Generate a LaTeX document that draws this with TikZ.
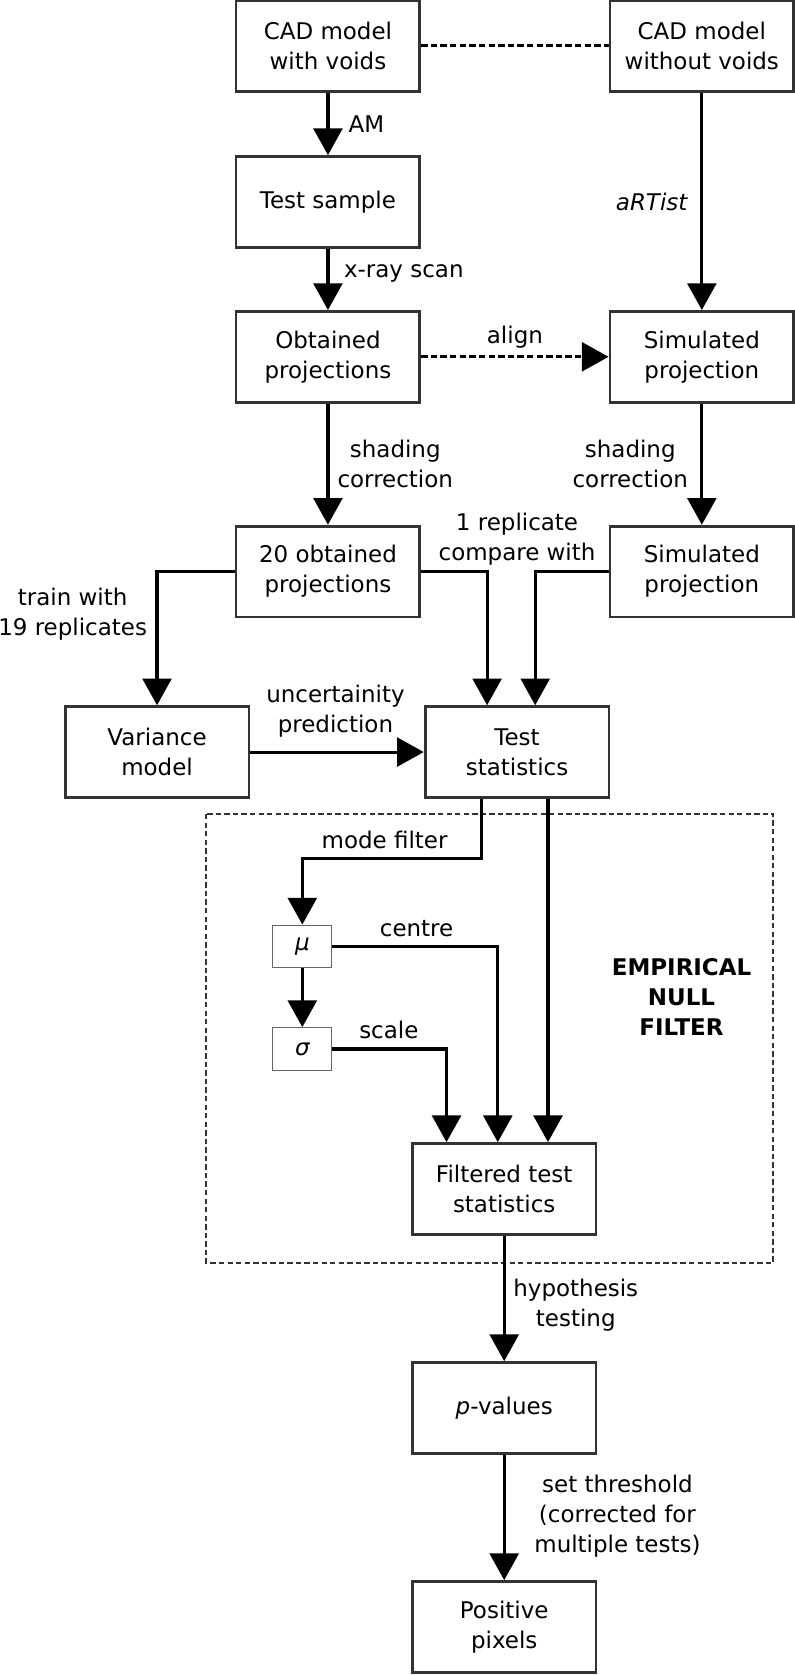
\documentclass[tikz,border=0pt]{standalone}
\usepackage{fontspec}
\setmainfont{DejaVu Sans}
\usetikzlibrary{arrows.meta}

\tikzset{
    stage/.style={draw=black!80, line width=2.6pt, minimum width=172pt, minimum height=85pt,
        align=center, inner sep=0pt},
    param/.style={draw=black!60, line width=1pt, minimum width=55pt, minimum height=40pt,
        inner sep=0pt},
    flow/.style={line width=2.9pt, -{Triangle[length=25pt,width=27pt]}},
    lbl/.style={align=center, inner sep=0pt}
}

\begin{document}
\begin{tikzpicture}[x=1pt, y=-1pt, font=\fontsize{21.5}{28}\selectfont]
        \useasboundingbox (0,0) rectangle (744,1568);

        % Stages
        \node[stage] (cadv)  at (307,43)   {CAD model\\with voids};
        \node[stage] (cadn)  at (657,43)   {CAD model\\without voids};
        \node[stage] (samp)  at (307,189)  {Test sample};
        \node[stage] (obt)   at (307,334)  {Obtained\\projections};
        \node[stage] (sim)   at (657,334)  {Simulated\\projection};
        \node[stage] (obt20) at (307,535)  {20 obtained\\projections};
        \node[stage] (sim2)  at (657,535)  {Simulated\\projection};
        \node[stage] (var)   at (147,704)  {Variance\\model};
        \node[stage] (stat)  at (484,704)  {Test\\statistics};
        \node[param] (mu)    at (283,886)  {\itshape μ};
        \node[param] (sig)   at (283,982)  {\itshape σ};
        \node[stage] (filt)  at (472,1113) {Filtered test\\statistics};
        \node[stage] (pval)  at (472,1318) {\itshape p\upshape-values};
        \node[stage] (pos)   at (472,1523) {Positive\\pixels};

        % Empirical null filter frame
        \draw[black!80, line width=2pt, dash pattern=on 5pt off 3pt] (193,762) rectangle (724,1182);
        \node[lbl, font=\fontsize{21.5}{28}\selectfont\bfseries] (enf) at (638,933) {EMPIRICAL\\NULL\\FILTER};

        % Connectors
        \draw[line width=2.9pt, dash pattern=on 6pt off 3pt] (cadv) -- (cadn);
        \draw[flow] (cadv) -- (samp);
        \draw[flow] (samp) -- (obt);
        \draw[flow] (cadn) -- (sim);
        \draw[flow, dash pattern=on 6pt off 3pt] (obt) -- (sim);
        \draw[flow] (obt) -- (obt20);
        \draw[flow] (sim) -- (sim2);
        \draw[flow] (obt20.west) -| (var.north);
        \draw[flow] (obt20.east) -| ([xshift=-28]stat.north);
        \draw[flow] (sim2.west) -| ([xshift=17]stat.north);
        \draw[flow] (var) -- (stat);
        \draw[flow] ([xshift=-33]stat.south) -- ++(0,56) -| (mu.north);
        \draw[flow] ([xshift=29]stat.south) -- ([xshift=29]stat.south |- filt.north);
        \draw[flow] (mu.east) -| ([xshift=-6]filt.north);
        \draw[flow] (mu) -- (sig);
        \draw[flow] (sig.east) -| ([xshift=-54]filt.north);
        \draw[flow] (filt) -- (pval);
        \draw[flow] (pval) -- (pos);

        % Labels
        \node[lbl] (lam)    at (343,116)  {AM};
        \node[lbl] (lxray)  at (378,256)  {x-ray scan};
        \node[lbl] (lart)   at (610,189)  {\itshape aRTist};
        \node[lbl] (lalign) at (482,316)  {align};
        \node[lbl] (lshl)   at (370,434)  {shading\\correction};
        \node[lbl] (lshr)   at (590,434)  {shading\\correction};
        \node[lbl] (ltrain) at (68,575)   {train with\\19 replicates};
        \node[lbl] (lcomp)  at (484,505)  {1 replicate\\compare with};
        \node[lbl] (lunc)   at (314,666)  {uncertainity\\prediction};
        \node[lbl] (lmode)  at (360,786)  {mode filter};
        \node[lbl] (lcent)  at (390,869)  {centre};
        \node[lbl] (lscale) at (364,964)  {scale};
        \node[lbl] (lhyp)   at (539,1222) {hypothesis\\testing};
        \node[lbl] (lthr)   at (578,1419) {set threshold\\(corrected for\\multiple tests)};
    \end{tikzpicture}
\end{document}
